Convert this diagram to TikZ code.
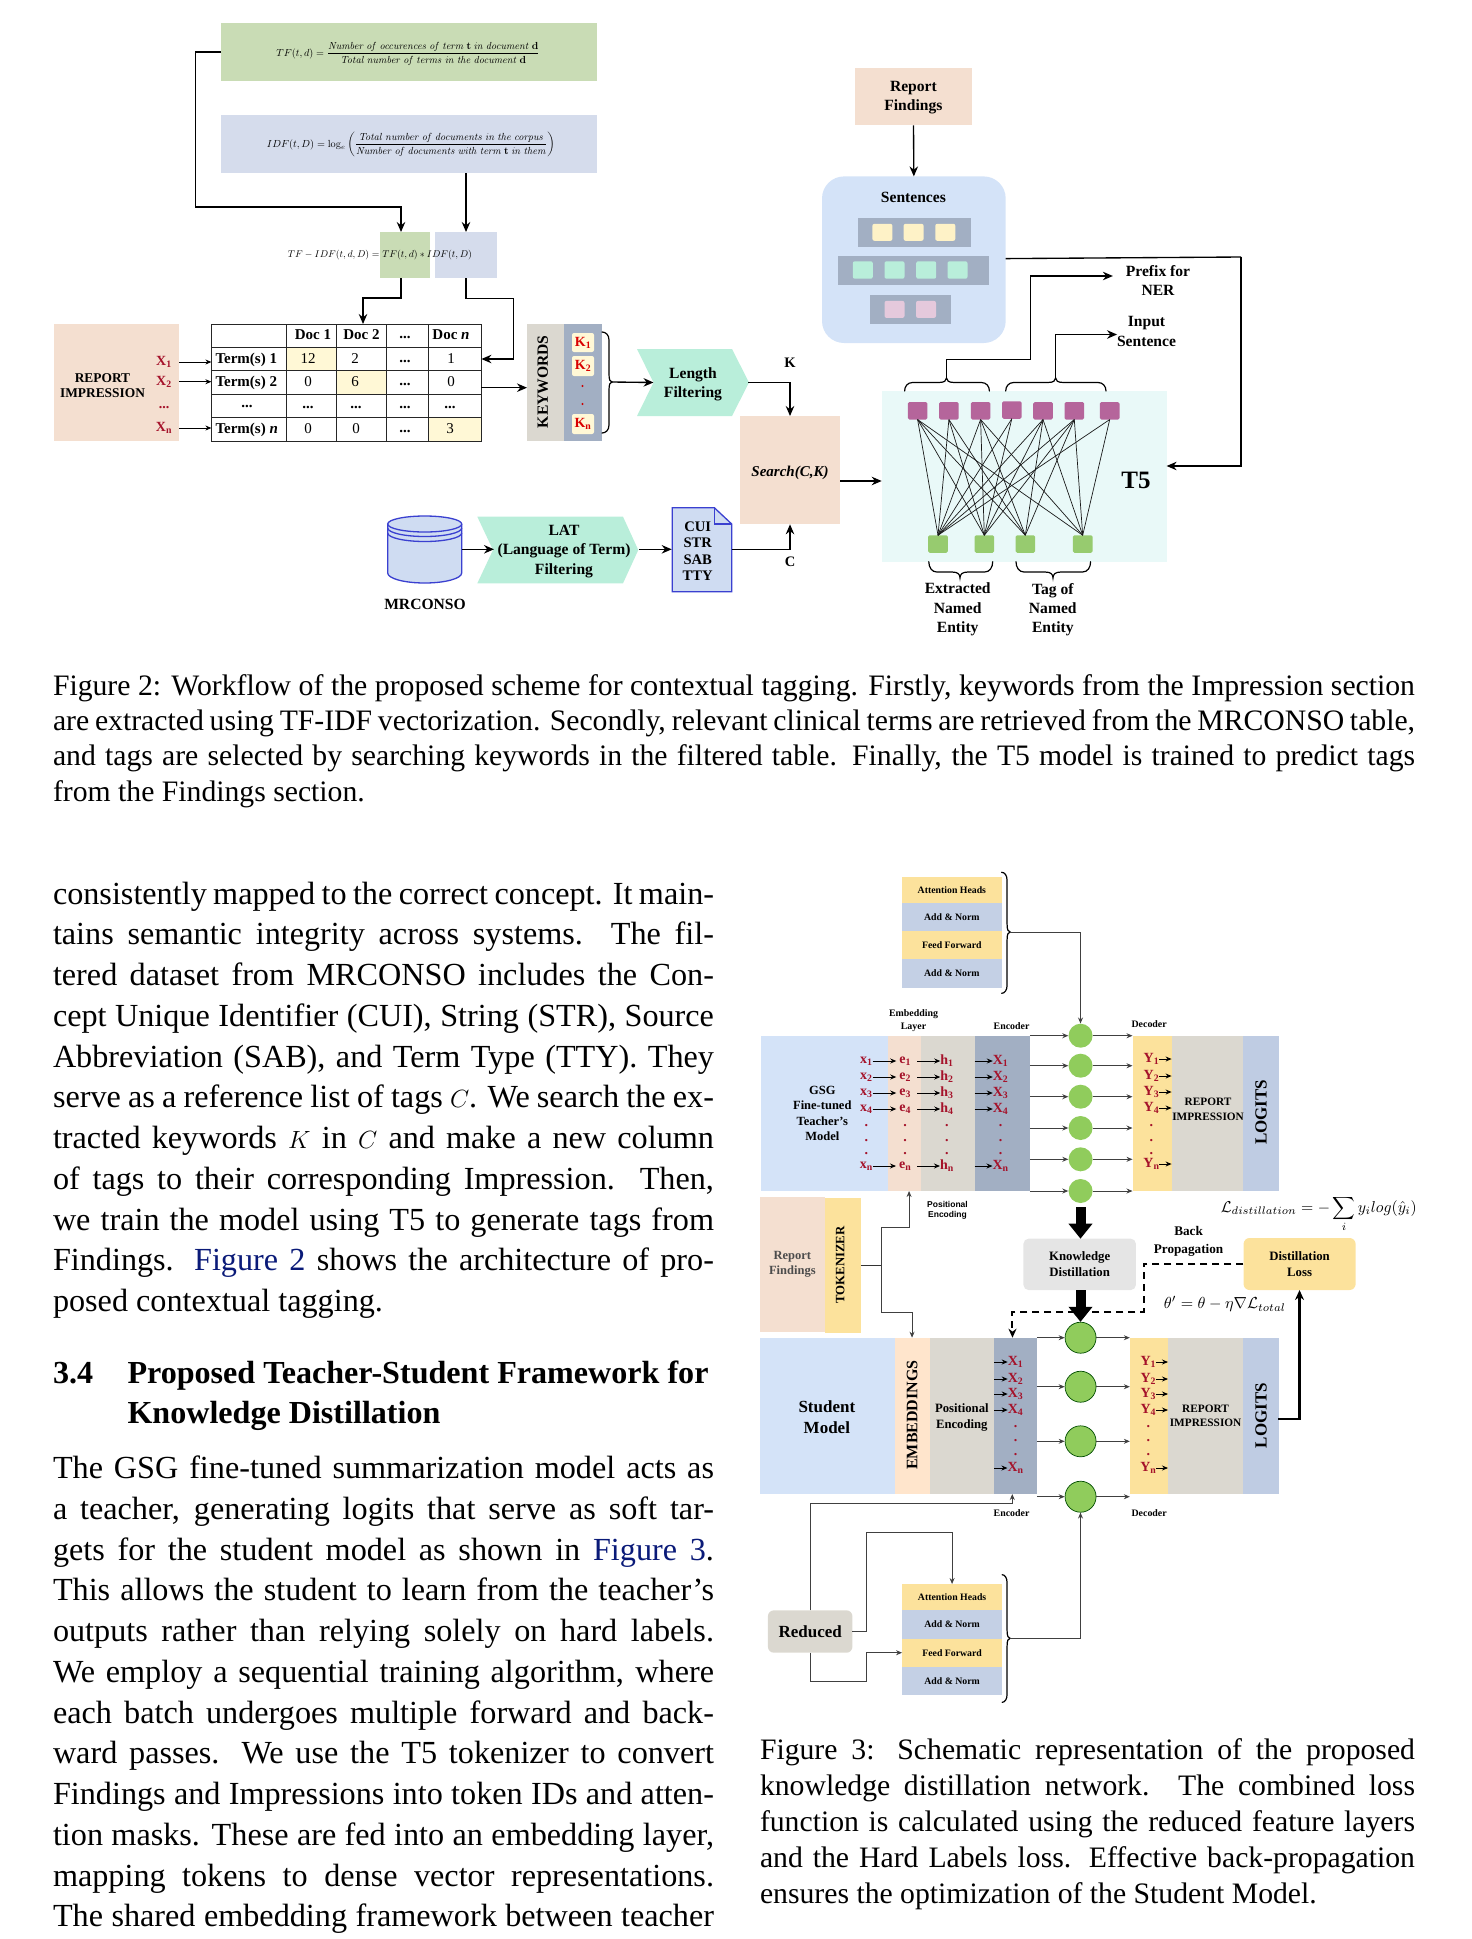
\documentclass[tikz,border=0pt]{standalone}
\usepackage[no-math]{fontspec}
\setmainfont{Liberation Serif}
\newfontfamily\lsans{Liberation Sans}
\usetikzlibrary{arrows.meta,calc}
\definecolor{cgreen}{HTML}{C9DCB5}
\definecolor{cblue}{HTML}{D5DCEC}
\definecolor{cpeach}{HTML}{F4DFD0}
\definecolor{cgrey}{HTML}{DBD8D0}
\definecolor{cslate}{HTML}{A2AFC3}
\definecolor{cmint}{HTML}{B9EEDA}
\definecolor{ccell}{HTML}{FFF8D6}
\definecolor{cyel}{HTML}{FCE29C}
\definecolor{clblue}{HTML}{D4E3F8}
\definecolor{clog}{HTML}{BFCCE3}
\definecolor{cstack}{HTML}{C4D0E5}
\definecolor{cred}{HTML}{A5122A}
\definecolor{cpink}{HTML}{B5659B}
\definecolor{cgrn}{HTML}{97CB6F}
\definecolor{ccirc}{HTML}{90CC5C}
\definecolor{cdoc}{HTML}{3A40D0}
\definecolor{cdocf}{HTML}{CFDCF2}
\definecolor{cnavy}{HTML}{0A1A78}
\definecolor{ctfive}{HTML}{E9F9F8}
\newcommand{\fs}[2]{\fontsize{#1}{#2}\selectfont}
\newcommand{\rs}[2]{#1\textsubscript{#2}}
\newcommand{\wf}{1}
\newcommand{\bx}[6][]{%
  \pgfmathsetmacro\bxw{(#5-#3)*\wf}\pgfmathsetmacro\bxh{#6-#4}%
  \pgfmathsetmacro\bxx{(#3+#5)/2}\pgfmathsetmacro\bxy{(#4+#6)/2}%
  \node[plate,minimum width=\bxw pt,minimum height=\bxh pt,#1] (#2) at (\bxx,\bxy)}
\newcommand{\hbr}[6]{\draw[brc] (#1,#4) .. controls (#1,0.45*#4+0.55*#5) and (#1+3,#5) .. (#1+8,#5) -- (#3-8,#5) .. controls (#3-2,#5) and (#3,0.6*#5+0.4*#6) .. (#3,#6) .. controls (#3,0.6*#5+0.4*#6) and (#3+2,#5) .. (#3+8,#5) -- (#2-8,#5) .. controls (#2-3,#5) and (#2,0.45*#4+0.55*#5) .. (#2,#4);}
\newcommand{\vbr}[6]{\draw[brc] (#4,#1) .. controls (0.45*#4+0.55*#5,#1) and (#5,#1+3) .. (#5,#1+8) -- (#5,#3-8) .. controls (#5,#3-2) and (0.6*#5+0.4*#6,#3) .. (#6,#3) .. controls (0.6*#5+0.4*#6,#3) and (#5,#3+2) .. (#5,#3+8) -- (#5,#2-8) .. controls (#5,#2-3) and (0.45*#4+0.55*#5,#2) .. (#4,#2);}
\newcommand{\jl}[5]{\node[txtl] (#1) at (#2,#3) {\makebox[#4pt][s]{#5}};}
\tikzset{
  plate/.style={rectangle,inner sep=0pt,outer sep=0pt,align=center},
  lab/.style={inner sep=0pt,outer sep=0pt,align=center,text=black},
  b15/.style={lab,font=\fs{15.6}{19.3}\bfseries},
  tcell/.style={lab,font=\fs{15}{18}},
  tbold/.style={lab,font=\fs{15}{18}\bfseries},
  red12/.style={lab,font=\fs{14}{15}\bfseries,text=cred},
  b10/.style={lab,font=\fs{9.9}{13}\bfseries},
  arr/.style={-{Stealth[length=10pt,width=8.5pt]},line width=1.35pt},
  arrs/.style={-{Stealth[length=6pt,width=5pt]},line width=.9pt},
  arrm/.style={-{Stealth[length=6pt,width=5pt]},line width=.9pt,draw=black!75},
  brc/.style={line width=1.2pt,line cap=round},
  thick arr/.style={line width=10pt,-{Triangle[length=15pt,width=23pt]}},
  txtl/.style={anchor=base west,inner sep=0pt,outer sep=0pt},
  body/.style={font=\fs{32.2}{38}},
  capt/.style={font=\fs{29.7}{35}},
}
\begin{document}
\begin{tikzpicture}[x=1pt,y=-1pt]
\useasboundingbox (0,0) rectangle (1472,1939);
%% ---------- Figure 2 ----------
\bx[fill=cgreen]{tf}{221}{23}{597}{81}{};
\node[lab] (tft) at (408,53.5) {\resizebox{263pt}{!}{$TF(t,d)=\displaystyle\frac{\mathit{Number\ of\ occurences\ of\ term}\ \mathbf{t}\ \mathit{in\ document}\ \mathbf{d}}{\mathit{Total\ number\ of\ terms\ in\ the\ document}\ \mathbf{d}}$}};
\bx[fill=cblue]{idf}{221}{115}{597}{173}{};
\node[lab] (idft) at (411,144.5) {\resizebox{288pt}{!}{$IDF(t,D)=\log_e\displaystyle\left(\frac{\mathit{Total\ number\ of\ documents\ in\ the\ corpus}}{\mathit{Number\ of\ documents\ with\ term}\ \mathbf{t}\ \mathit{in\ them}}\right)$}};
\bx[fill=cgreen]{tfg}{380}{232}{430}{278}{};
\bx[fill=cblue]{idg}{435}{232}{497}{278}{};
\node[lab] (tfidf) at (380,255) {\resizebox{184pt}{!}{$TF-IDF(t,d,D)=TF(t,d)*IDF(t,D)$}};
\coordinate (j1) at (195.5,207);
\coordinate (j2) at (363,298);
\coordinate (j3) at (513.5,298.5);
% report impression + table
\bx[fill=cpeach]{rep}{54}{324}{179.3}{441}{};
\node[lab,font=\fs{13.4}{15.6}\bfseries] (reptxt) at (102.5,385.5) {REPORT\\IMPRESSION};
\node[red12] (x1) at (164,362) {\rs{X}{1}};
\node[red12] (x2) at (164,381.7) {\rs{X}{2}};
\node[red12] (x3) at (164,408) {...};
\node[red12] (xn) at (164,428) {\rs{X}{n}};
\bx[fill=ccell]{c12}{286.5}{347.3}{336}{370.7}{};
\bx[fill=ccell]{c6}{336}{370.7}{386}{394.3}{};
\bx[fill=ccell]{c3}{428}{417.7}{481.4}{441}{};
\bx[draw=black!85,line width=.9pt]{tbl}{211.4}{324}{481.4}{441}{};
\foreach \xx in {286.5,336,386,428}{\draw[line width=.9pt,draw=black!85] (\xx,324) -- (\xx,441);}
\foreach \yy in {347.3,370.7,394.3,417.7}{\draw[line width=.9pt,draw=black!85] (211.4,\yy) -- (481.4,\yy);}
\node[tbold] (d1) at (313,335) {Doc 1};
\node[tbold] (d2) at (361.5,335) {Doc 2};
\node[tbold] (d3) at (405,337) {...};
\node[tbold] (dn) at (451,335) {Doc \textit{n}};
\node[tbold,anchor=west] (t1) at (215.5,359.5) {Term(s) 1};
\node[tbold,anchor=west] (t2) at (215.5,382.5) {Term(s) 2};
\node[tbold] (t3) at (247,406) {...};
\node[tbold,anchor=west] (tn) at (215.5,429.5) {Term(s) \textit{n}};
\node[tcell] (v11) at (308,359) {12};
\node[tcell] (v12) at (355,359) {2};
\node[tbold] (v13) at (405,361) {...};
\node[tcell] (v14) at (451,359) {1};
\node[tcell] (v21) at (308,382) {0};
\node[tcell] (v22) at (355,382) {6};
\node[tbold] (v23) at (405,384) {...};
\node[tcell] (v24) at (451,382) {0};
\foreach \xx/\nn in {308/a,356/b,405/c,450/d}{\node[tbold] (v3\nn) at (\xx,407) {...};}
\node[tcell] (v41) at (308,429) {0};
\node[tcell] (v42) at (356,429) {0};
\node[tbold] (v43) at (405,431) {...};
\node[tcell] (v44) at (450,429) {3};
% keywords
\bx[fill=cgrey]{kw}{527}{324}{564.4}{441}{};
\bx[fill=cslate]{kb}{564.4}{324}{602}{441}{};
\node[b15,rotate=90] (kwt) at (542.7,381.7) {KEYWORDS};
\bx[fill=ccell,rounded corners=2pt,font=\fs{14}{15}\bfseries,text=red!85!black]{k1}{572}{333}{594}{352}{\rs{K}{1}};
\bx[fill=ccell,rounded corners=2pt,font=\fs{14}{15}\bfseries,text=red!85!black]{k2}{572}{356}{594}{376}{\rs{K}{2}};
\bx[fill=ccell,rounded corners=2pt,font=\fs{14}{15}\bfseries,text=red!85!black]{kn}{572}{414}{594}{434}{\rs{K}{n}};
\node[lab,circle,fill=red!80!black,minimum size=2.4pt] (kd1) at (582.5,386) {};
\node[lab,circle,fill=red!80!black,minimum size=2.4pt] (kd2) at (582.5,404) {};
\vbr{332}{433}{382}{602}{609}{612}
\coordinate (kbr) at (612,382);
% length filtering
\fill[cmint] (637,349) -- (732,349) -- (749,382.5) -- (732,416) -- (637,416) -- (653.5,382.5) -- cycle;
\node[b15] (len) at (693,384) {Length\\Filtering};
\coordinate (lenin) at (653.5,382.5);
\coordinate (lentip) at (748,382.5);
% search
\bx[fill=cpeach]{search}{740}{416}{840}{524.3}{};
\node[lab,font=\fs{15}{18}\bfseries\itshape] (searcht) at (790,472.5) {Search(C,K)};
\node[lab,font=\fs{14.5}{17}\bfseries] (klab) at (790,363) {K};
\node[lab,font=\fs{14.5}{17}\bfseries] (clab) at (790,562) {C};
% MRCONSO
\draw[cdoc,fill=cdocf,line width=1.3pt] (387.7,524) -- (387.7,573) arc[start angle=180,end angle=0,x radius=37,y radius=10] -- (461.7,524);
\draw[cdoc,fill=cdocf,line width=1.3pt] (424.7,524) ellipse[x radius=37,y radius=8];
\draw[cdoc,line width=1.3pt] (387.7,528) arc[start angle=180,end angle=0,x radius=37,y radius=8.5];
\draw[cdoc,line width=1.3pt] (387.7,533) arc[start angle=180,end angle=0,x radius=37,y radius=8.5];
\coordinate (db) at (461.7,549.3);
\node[b15] (mrc) at (425,604) {MRCONSO};
\fill[cmint] (477.3,516.7) -- (623,516.7) -- (638.3,550) -- (623,583.3) -- (477.3,583.3) -- (493,550) -- cycle;
\node[lab,font=\fs{15.6}{19.5}\bfseries] (lat) at (564,551.5) {LAT\\(Language of Term)\\Filtering};
\coordinate (latin) at (494,549.3);
\coordinate (latout) at (639.3,549.3);
\draw[cdoc,fill=cdocf,line width=1.3pt] (672.3,507.7) -- (714.3,507.7) -- (731.7,524) -- (731.7,591.7) -- (672.3,591.7) -- cycle;
\draw[cdoc,line width=1.3pt] (714.3,507.7) -- (714.3,524) -- (731.7,524);
\node[lab,font=\fs{14.6}{16.5}\bfseries] (doc) at (697.7,551) {CUI\\STR\\SAB\\TTY};
\coordinate (docin) at (671.7,549.3);
\coordinate (docout) at (731.7,549.3);
% findings & sentences
\bx[fill=cpeach]{find}{855}{68}{972}{125.4}{};
\node[lab,font=\fs{15.6}{18.8}\bfseries] (findt) at (913.4,98) {Report\\Findings};
\bx[fill=clblue,rounded corners=22pt]{sent}{822}{176.4}{1005.7}{343}{};
\node[b15] (senttxt) at (913.4,197) {Sentences};
\bx[fill=cslate]{bar1}{858}{218}{970.8}{247}{};
\bx[fill=cslate]{bar2}{838.4}{255.8}{989}{285}{};
\bx[fill=cslate]{bar3}{869.6}{295}{950.7}{323.8}{};
\foreach \i/\a in {1/872.4,2/903.6,3/935.3}{\bx[fill=ccell!75!cyel,rounded corners=2pt]{sy\i}{\a}{223.8}{\a+20}{240.8}{};}
\foreach \i/\a in {1/852.8,2/884.5,3/916.2,4/947.5}{\bx[fill=cmint,rounded corners=2pt]{sg\i}{\a}{261.3}{\a+20}{278.7}{};}
\foreach \i/\a in {1/884.5,2/916}{\bx[fill=cpink!35!white,rounded corners=2pt]{sp\i}{\a}{300.9}{\a+20}{317.9}{};}
% T5
\bx[fill=ctfive]{tfive}{881.7}{391}{1166.6}{561.7}{};
\node[lab,font=\fs{25}{28}\bfseries] (tfivet) at (1136,480.7) {T5};
\foreach \i/\a/\b in {1/917.6/410.8,2/948.9/410.8,3/980.6/410.8,4/1011.8/410,5/1043/410.8,6/1074.3/410.8,7/1109.7/410.8}{
  \node[plate,fill=cpink,rounded corners=1.5pt,minimum width=19.6pt,minimum height=17.5pt] (p\i) at (\a,\b) {};}
\foreach \i/\a in {1/938,2/984.3,3/1025.3,4/1082.7}{
  \node[plate,fill=cgrn,rounded corners=1.5pt,minimum width=19.6pt,minimum height=17.5pt] (g\i) at (\a,544) {};}
\foreach \a/\b in {1/1,1/2,1/3,1/4,2/1,2/2,2/3,3/1,3/2,3/3,3/4,4/1,4/2,5/1,5/2,5/3,5/4,6/1,6/2,6/3,6/4,7/1,7/4}{
  \draw[line width=.7pt,black!90] (p\a.south) -- (g\b.north);}
\hbr{904.6}{989.4}{946.5}{391}{382.5}{378}
\hbr{1005.7}{1106}{1055.6}{391}{382.5}{378}
\hbr{928.8}{992.7}{960}{561.7}{572}{578}
\hbr{1016}{1090.6}{1053}{561.7}{572}{578}
\coordinate (b1) at (946.5,379);
\coordinate (b2) at (1055.6,379);
\coordinate (b1m) at (1030.4,359.4);
\coordinate (b2m) at (1055.6,334.5);
\node[b15] (prefix) at (1158,280.3) {Prefix for\\NER};
\node[b15] (inputs) at (1146.5,331.5) {Input\\Sentence};
\node[b15] (ene) at (957.7,609.5) {Extracted\\Named\\Entity};
\node[b15] (tne) at (1052.8,609.5) {Tag of\\Named\\Entity};
\coordinate (s1) at (1241,257);
\coordinate (s2) at (1241,466);
% Fig 2 connectors
\draw[arr] (tf.west) -| (j1) -| ([xshift=-4pt]tfg.north);
\draw[arr] (idf.south -| idg.north) -- (idg.north);
\draw[arr] ([xshift=-4pt]tfg.south) |- (j2) -- (j2 |- tbl.north);
\draw[arr] (idg.south) |- (j3) |- (tbl.east |- v14);
\draw[arrs] (rep.east |- x1) -- (tbl.west |- x1);
\draw[arrs] (rep.east |- x2) -- (tbl.west |- x2);
\draw[arrs] (rep.east |- xn) -- (tbl.west |- xn);
\draw[arr] (tbl.east |- 0,387.7) -- (kw.west |- 0,387.7);
\draw[arr] (kbr) -- (lenin);
\draw[arr] (lentip) -| (search.north);
\draw[arr] (db) -- (latin);
\draw[arr] (latout) -- (docin);
\draw[arr] (docout) -| (search.south);
\draw[arr] (search.east |- 0,481) -- (tfive.west |- 0,481);
\draw[arr] (find.south) -- (sent.north);
\draw[line width=1.35pt] (sent.east |- 0,258.6) -- (s1);
\draw[arr] (s1) -- (s2) -- (tfive.east |- s2);
\draw[arr] (b1) |- (b1m) |- ([xshift=-13pt]prefix.west |- 0,276);
\draw[arr] (b2) -- (b2m) -- (inputs.west |- b2m);
%% ---------- Captions ----------
\begin{scope}[every node/.append style={capt}]
\jl{cf1}{53}{695}{1362}{Figure 2: Workflow of the proposed scheme for contextual tagging. Firstly, keywords from the Impression section}
\jl{cf2}{53}{730.4}{1362}{are extracted using TF-IDF vectorization. Secondly, relevant clinical terms are retrieved from the MRCONSO table,}
\jl{cf3}{53}{765.8}{1362}{and tags are selected by searching keywords in the filtered table. Finally, the T5 model is trained to predict tags}
\node[txtl] (cf4) at (53,801.2) {from the Findings section.};
\jl{cg1}{760}{1759.5}{655}{Figure 3: Schematic representation of the proposed}
\jl{cg2}{760}{1795.4}{655}{knowledge distillation network. The combined loss}
\jl{cg3}{760}{1831.3}{655}{function is calculated using the reduced feature layers}
\jl{cg4}{760}{1867.2}{655}{and the Hard Labels loss. Effective back-propagation}
\node[txtl] (cg5) at (760,1903.1) {ensures the optimization of the Student Model.};
\end{scope}
%% ---------- Body text ----------
\begin{scope}[every node/.append style={body}]
\jl{l1}{53}{904}{661}{consistently mapped to the correct concept. It main-}
\jl{l2}{53}{944.75}{661}{tains semantic integrity across systems. The fil-}
\jl{l3}{53}{985.5}{661}{tered dataset from MRCONSO includes the Con-}
\jl{l4}{53}{1026.25}{661}{cept Unique Identifier (CUI), String (STR), Source}
\jl{l5}{53}{1067}{661}{Abbreviation (SAB), and Term Type (TTY). They}
\jl{l6}{53}{1107.75}{661}{serve as a reference list of tags $C$. We search the ex-}
\jl{l7}{53}{1148.5}{661}{tracted keywords $K$ in $C$ and make a new column}
\jl{l8}{53}{1189.25}{661}{of tags to their corresponding Impression. Then,}
\jl{l9}{53}{1230}{661}{we train the model using T5 to generate tags from}
\jl{l10}{53}{1270.75}{661}{Findings. \textcolor{cnavy}{Figure 2} shows the architecture of pro-}
\node[txtl] (l11) at (53,1311.5) {posed contextual tagging.};
\node[txtl,font=\fs{32.1}{38}\bfseries] (h1) at (53,1383) {3.4};
\node[txtl,font=\fs{32.1}{38}\bfseries] (h2) at (127.5,1383) {Proposed Teacher-Student Framework for};
\node[txtl,font=\fs{32.1}{38}\bfseries] (h3) at (127.5,1423) {Knowledge Distillation};
\jl{m1}{53}{1478.5}{661}{The GSG fine-tuned summarization model acts as}
\jl{m2}{53}{1519.25}{661}{a teacher, generating logits that serve as soft tar-}
\jl{m3}{53}{1560}{661}{gets for the student model as shown in \textcolor{cnavy}{Figure 3}.}
\jl{m4}{53}{1600.75}{661}{This allows the student to learn from the teacher's}
\jl{m5}{53}{1641.5}{661}{outputs rather than relying solely on hard labels.}
\jl{m6}{53}{1682.25}{661}{We employ a sequential training algorithm, where}
\jl{m7}{53}{1723}{661}{each batch undergoes multiple forward and back-}
\jl{m8}{53}{1763.75}{661}{ward passes. We use the T5 tokenizer to convert}
\jl{m9}{53}{1804.5}{661}{Findings and Impressions into token IDs and atten-}
\jl{m10}{53}{1845.25}{661}{tion masks. These are fed into an embedding layer,}
\jl{m11}{53}{1886}{661}{mapping tokens to dense vector representations.}
\jl{m12}{53}{1926.75}{661}{The shared embedding framework between teacher}
\end{scope}
%% ---------- Figure 3 ----------
\begin{scope}[shift={(4.14,0)},xscale=0.99448]
\renewcommand{\wf}{0.99448}
% top stack
\bx[fill=cyel,font=\fs{9.8}{12}\bfseries]{a1}{903}{876.7}{1003}{902.7}{Attention Heads};
\bx[fill=cstack,font=\fs{9.8}{12}\bfseries]{a2}{903}{902.7}{1003}{930.7}{Add \& Norm};
\bx[fill=cyel,font=\fs{9.8}{12}\bfseries]{a3}{903}{930.7}{1003}{959.3}{Feed Forward};
\bx[fill=cstack,font=\fs{9.8}{12}\bfseries]{a4}{903}{959.3}{1003}{987.7}{Add \& Norm};
\vbr{872.3}{993.3}{932}{1003}{1008.5}{1011.6}
\coordinate (abr) at (1011.6,932);
% teacher row
\bx[fill=clblue]{gsg}{760.6}{1035.7}{889}{1191}{};
\node[lab,font=\fs{12.5}{15.2}\bfseries] (gsgt) at (822.7,1113.5) {GSG\\Fine-tuned\\Teacher's\\Model};
\bx[fill=cpeach]{emb}{889}{1035.7}{921.8}{1191}{};
\bx[fill=cgrey]{hid}{921.8}{1035.7}{976}{1191}{};
\bx[fill=cslate]{enc}{976}{1035.7}{1031.5}{1191}{};
\bx[fill=cyel]{dec}{1134.7}{1035.7}{1174}{1191}{};
\bx[fill=cgrey]{rimp}{1174}{1035.7}{1245.8}{1191}{};
\bx[fill=clog]{logt}{1245.8}{1035.7}{1282}{1191}{};
\node[lab,font=\fs{11.3}{14.6}\bfseries] (rimpt) at (1210.6,1109) {REPORT\\IMPRESSION};
\node[lab,font=\fs{17}{20}\bfseries,rotate=90] (logtt) at (1264,1112.3) {LOGITS};
\node[b10] (embt) at (914.4,1020.2) {Embedding\\Layer};
\node[b10] (enct) at (1013,1025.7) {Encoder};
\node[b10] (dect) at (1151.4,1024) {Decoder};
\foreach \i/\s/\y in {1/1/1061,2/2/1077,3/3/1093,4/4/1109,5/n/1166}{
  \node[red12] (tx\i) at (867,\y) {\rs{x}{\s}};
  \node[red12] (te\i) at (906,\y) {\rs{e}{\s}};
  \node[red12] (th\i) at (948,\y) {\rs{h}{\s}};
  \node[red12] (tX\i) at (1002,\y) {\rs{X}{\s}};
  \draw[arrs,shorten >=3pt] (tx\i) -- (te\i);
  \draw[arrs] ([xshift=12pt]te\i.center) -- (th\i.west);
  \draw[arrs] (enc.west |- tX\i) -- (tX\i.west);
}
\foreach \xx/\nn in {867/a,906/b,948/c,1002/d,1153.7/e}{\foreach \yy/\mm in {1126/a,1141/b,1154/c}{
  \node[red12] (td\nn\mm) at (\xx,\yy) {.};}}
\foreach \i/\s/\y in {1/1/1059,2/2/1076,3/3/1092,4/4/1108,5/n/1164}{
  \node[red12] (tY\i) at (1153.7,\y) {\rs{Y}{\s}};
  \draw[arrs] (tY\i.east) -- (dec.east |- tY\i);
}
\foreach \i/\y in {1/1035.7,2/1065.7,3/1096.7,4/1128,5/1159.3,6/1191}{
  \node[circle,fill=ccirc,inner sep=0pt,minimum size=24pt] (tc\i) at (1082.4,\y) {};
  \draw[arrm] (enc.east |- tc\i) -- (tc\i.west);
  \draw[arrm] (tc\i.east) -- (dec.west |- tc\i);
}
\draw[arrm] (abr) -| (tc1.north);
% tokenizer
\bx[fill=cpeach]{rfb}{760}{1196.7}{825.5}{1332.3}{};
\node[lab,font=\fs{12.5}{15}\bfseries,text=black!70] (rft) at (792.6,1264.5) {Report\\Findings};
\bx[fill=cyel]{tok}{825.5}{1198}{861.6}{1332.7}{};
\node[lab,font=\fs{12.8}{15}\bfseries,rotate=90] (tokt) at (840.7,1265) {TOKENIZER};
\node[lab,font=\lsans\fs{8.5}{10}\bfseries] (pet) at (948.6,1210) {Positional\\Encoding};
\coordinate (t1) at (882,1265.3);
% student row
\bx[fill=clblue]{stu}{760}{1337.7}{895.4}{1494}{};
\node[lab,font=\fs{17}{20.5}\bfseries] (stut) at (827.3,1417) {Student\\Model};
\bx[fill=orange!20!white]{semb}{895.4}{1337.7}{930.6}{1494}{};
\node[lab,font=\fs{16}{18}\bfseries,rotate=90] (sembt) at (913,1415) {EMBEDDINGS};
\bx[fill=cgrey]{spos}{930.6}{1337.7}{995.8}{1494}{};
\node[lab,font=\fs{12.7}{16}\bfseries] (spost) at (963,1417.5) {Positional\\Encoding};
\bx[fill=cslate]{senc}{995.8}{1337.7}{1038.4}{1494}{};
\bx[fill=cyel]{sdec}{1132}{1337.7}{1170.4}{1494}{};
\bx[fill=cgrey,font=\fs{11.3}{14}\bfseries]{srep}{1170.4}{1337.7}{1245.8}{1494}{REPORT\\IMPRESSION};
\bx[fill=clog]{slog}{1245.8}{1337.7}{1281.5}{1494}{};
\node[lab,font=\fs{17}{20}\bfseries,rotate=90] (slogt) at (1264,1415.7) {LOGITS};
\foreach \i/\s/\y in {1/1/1362,2/2/1379,3/3/1394,4/4/1410,5/n/1468}{
  \node[red12] (sX\i) at (1017,\y) {\rs{X}{\s}};
  \draw[arrs] (senc.west |- sX\i) -- (sX\i.west);
  \node[red12] (sY\i) at (1150.5,\y) {\rs{Y}{\s}};
  \draw[arrs] (sY\i.east) -- (sdec.east |- sY\i);
}
\foreach \xx/\nn in {1017/a,1150.5/b}{\foreach \yy/\mm in {1427/a,1441/b,1455/c}{
  \node[red12] (sd\nn\mm) at (\xx,\yy) {.};}}
\foreach \i/\y in {1/1337.7,2/1386.7,3/1441.3,4/1496.7}{
  \node[circle,fill=ccirc,draw=black!70!green,line width=.7pt,inner sep=0pt,minimum size=31pt] (sc\i) at (1082.4,\y) {};
  \draw[arrm] (senc.east |- sc\i) -- (sc\i.west);
  \draw[arrm] (sc\i.east) -- (sdec.west |- sc\i);
}
\node[b10] (senct) at (1013,1512.7) {Encoder};
\node[b10] (sdect) at (1151.4,1512.7) {Decoder};
% distillation
\bx[fill=black!10,rounded corners=5pt,font=\fs{12.8}{16}\bfseries]{kd}{1025}{1238.7}{1138}{1290}{Knowledge\\Distillation};
\bx[fill=cyel,rounded corners=6pt,font=\fs{12.8}{16}\bfseries]{dl}{1246.3}{1238}{1359}{1290}{Distillation\\Loss};
\node[lab,font=\fs{13.2}{17.5}\bfseries] (bp) at (1191,1241.5) {Back\\Propagation};
\node[lab] (ldist) at (1322,1214) {\resizebox{196pt}{!}{$\mathcal{L}_{distillation}=-\displaystyle\sum_i y_i log(\hat{y}_i)$}};
\node[lab] (theta) at (1227.5,1304.3) {\resizebox{122pt}{!}{$\theta'=\theta-\eta\nabla\mathcal{L}_{total}$}};
\draw[thick arr] (tc6.south |- 0,1207) -- (kd.north -| tc6);
\draw[thick arr] (kd.south -| tc6) -- (sc1.north);
\coordinate (dj1) at (1145.8,1264);
\coordinate (dj2) at (1014,1312);
\draw[line width=2pt,dash pattern=on 7pt off 5pt,-{Stealth[length=9pt,width=8pt]}] (dl.west |- dj1) -- (dj1) |- (dj2) -- (dj2 |- senc.north);
\draw[line width=2.2pt,-{Stealth[length=10pt,width=9pt]}] (slog.east |- 0,1418.7) -| (dl.south);
% tokenizer branches
\draw[line width=.9pt,draw=black!80] (tok.east |- t1) -- (t1);
\coordinate (t2) at (910,1227.3);
\coordinate (t3) at (913,1312.3);
\draw[arrm] (t1) |- (t2) -- (t2 |- emb.south);
\draw[arrm] (t1) |- (t3) -- (t3 |- semb.north);
% bottom stack
\bx[fill=cyel,font=\fs{9.8}{12}\bfseries]{b1a}{903}{1584}{1003.5}{1610}{Attention Heads};
\bx[fill=cstack,font=\fs{9.8}{12}\bfseries]{b2a}{903}{1610}{1003.5}{1638.7}{Add \& Norm};
\bx[fill=cyel,font=\fs{9.8}{12}\bfseries]{b3a}{903}{1638.7}{1003.5}{1666.7}{Feed Forward};
\bx[fill=cstack,font=\fs{9.8}{12}\bfseries]{b4a}{903}{1666.7}{1003.5}{1695}{Add \& Norm};
\vbr{1574.7}{1702.3}{1638.3}{1003.5}{1008.5}{1011.5}
\coordinate (bbr) at (1011.5,1638.3);
\bx[fill=cgrey,rounded corners=6pt,font=\fs{17}{20}\bfseries]{red}{768}{1610.3}{853}{1652.7}{Reduced};
\coordinate (r1) at (1013.8,1503.3);
\coordinate (r2) at (867.3,1532.3);
\coordinate (r3) at (867.3,1681);
\draw[arrm] (red.north) |- (r1) -- (r1 |- senc.south);
\draw[arrm] (red.east) -| (r2) -| (b1a.north);
\draw[arrm] (red.south) |- (r3) |- (b3a.west);
\draw[arrm] (bbr) -| (sc4.south);
\end{scope}
\end{tikzpicture}
\end{document}
